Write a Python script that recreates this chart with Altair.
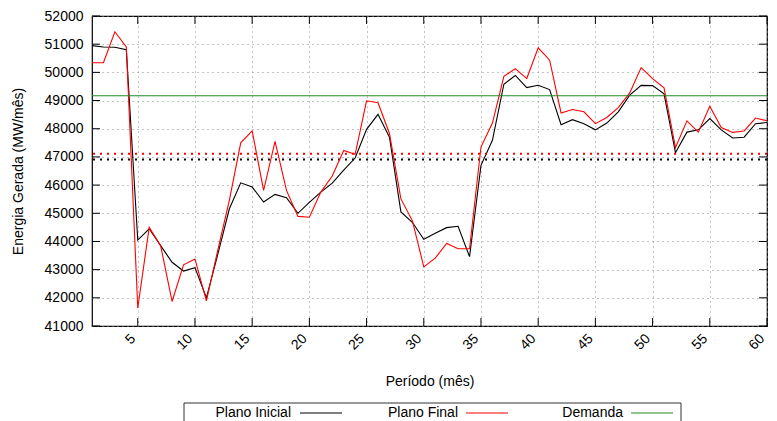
import altair as alt
import pandas as pd

periodos = list(range(1, 61))

plano_inicial = [
    50950, 50900, 50890, 50800, 44050, 44450, 43850, 43260, 42950, 43070,
    42000, 43550, 45150, 46080, 45930, 45400, 45670, 45550, 45000, 45390,
    45750, 46070, 46530, 46960, 47980, 48510, 47700, 45050, 44680, 44080,
    44290, 44490, 44540, 43460, 46700, 47590, 49580, 49890, 49460, 49540,
    49390, 48140, 48320, 48180, 47960, 48200, 48600, 49190, 49540, 49530,
    49240, 47150, 47880, 47960, 48360, 47960, 47670, 47700, 48180, 48220,
]

plano_final = [
    50340, 50340, 51440, 50900, 41640, 44500, 43850, 41870, 43170, 43380,
    41890, 43700, 45450, 47500, 47920, 45810, 47550, 45810, 44890, 44860,
    45750, 46320, 47230, 47090, 48990, 48920, 47830, 45510, 44740, 43100,
    43410, 43930, 43740, 43740, 47350, 48200, 49860, 50130, 49780, 50870,
    50430, 48560, 48680, 48600, 48180, 48400, 48750, 49270, 50170, 49780,
    49450, 47330, 48280, 47880, 48800, 48040, 47870, 47920, 48380, 48280,
]

demanda = [49170]
media_inicial = [46910]
media_final = [47110]

x_ticks = list(range(5, 61, 5))
y_ticks = list(range(41000, 52001, 1000))

legend_labels = ["Plano Inicial", "Plano Final", "Demanda"]
legend_colors = ["#000000", "#ff0000", "#228b22"]

W, H = 675, 310
FONT = "Liberation Sans"

x_scale = alt.Scale(domain=[1, 60], nice=False, zero=False)
y_scale = alt.Scale(domain=[41000, 52000], nice=False, zero=False)

grid_style = dict(grid=True, gridDash=[1, 4], gridColor="#8a8a8a", gridWidth=1,
                  ticks=False, tickSize=0, domain=False)

x_axis = alt.Axis(values=x_ticks, title="Período (mês)", labelAngle=-45,
                  labelAlign="right", labelBaseline="bottom", labelPadding=15,
                  titleX=W / 2, titleY=55, titleAlign="center",
                  titleBaseline="middle", **grid_style)
y_axis = alt.Axis(values=y_ticks, title="Energia Gerada (MW/mês)",
                  labelPadding=9, format="d", titleX=-74, titleY=H / 2,
                  titleAngle=270, titleAlign="center",
                  titleBaseline="middle", **grid_style)


def X(field):
    return alt.X(field, scale=x_scale, axis=x_axis)


def Y(field):
    return alt.Y(field, scale=y_scale, axis=y_axis)


df_ini = pd.DataFrame({"p": periodos, "v": plano_inicial})
df_fin = pd.DataFrame({"p": periodos, "v": plano_final})

base_line = alt.Chart(df_ini).mark_line(color="#000000", strokeWidth=1.1).encode(
    x=X("p:Q"), y=Y("v:Q"))
final_line = alt.Chart(df_fin).mark_line(color="#ff0000", strokeWidth=1.1).encode(
    x=X("p:Q"), y=Y("v:Q"))

dem_rule = alt.Chart(pd.DataFrame({"v": demanda})).mark_rule(
    color="#228b22", strokeWidth=1.2).encode(y=Y("v:Q"))

mean_ini = alt.Chart(pd.DataFrame({"v": media_inicial})).mark_rule(
    color="#000000", strokeWidth=2, strokeDash=[2, 5]).encode(y=Y("v:Q"))
mean_fin = alt.Chart(pd.DataFrame({"v": media_final})).mark_rule(
    color="#ff0000", strokeWidth=2, strokeDash=[2, 5]).encode(y=Y("v:Q"))

# inward tick marks (gnuplot style), on all four sides
xt = pd.DataFrame({"p": x_ticks})
yt = pd.DataFrame({"v": y_ticks})
tick_len = 8
xt_bottom = alt.Chart(xt).mark_rule(color="black").encode(
    x=X("p:Q"), y=alt.value(H), y2=alt.value(H - tick_len))
xt_top = alt.Chart(xt).mark_rule(color="black").encode(
    x=X("p:Q"), y=alt.value(0), y2=alt.value(tick_len))
yt_left = alt.Chart(yt).mark_rule(color="black").encode(
    y=Y("v:Q"), x=alt.value(0), x2=alt.value(tick_len))
yt_right = alt.Chart(yt).mark_rule(color="black").encode(
    y=Y("v:Q"), x=alt.value(W), x2=alt.value(W - tick_len))

# legend box below the plot (gnuplot style: label then line sample)
leg_df = pd.DataFrame({"t": [""]})
box_top, box_bottom, box_left, box_right = 387, 420, 92, 589
leg_layers = [
    alt.Chart(leg_df).mark_rule(color="#333333").encode(
        x=alt.value(box_left), x2=alt.value(box_right), y=alt.value(box_top)),
    alt.Chart(leg_df).mark_rule(color="#333333").encode(
        x=alt.value(box_left), y=alt.value(box_top), y2=alt.value(box_bottom)),
    alt.Chart(leg_df).mark_rule(color="#333333").encode(
        x=alt.value(box_right), y=alt.value(box_top), y2=alt.value(box_bottom)),
]
text_ends = [199, 366, 531]
line_starts = [208, 374, 539]
leg_y = 397
for lab, col, te, ls in zip(legend_labels, legend_colors, text_ends, line_starts):
    leg_layers.append(
        alt.Chart(pd.DataFrame({"t": [lab]})).mark_text(
            align="right", baseline="middle", font=FONT, fontSize=14, color="black"
        ).encode(text="t:N", x=alt.value(te), y=alt.value(leg_y))
    )
    leg_layers.append(
        alt.Chart(leg_df).mark_rule(color=col, strokeWidth=1.2).encode(
            x=alt.value(ls), x2=alt.value(ls + 42), y=alt.value(leg_y))
    )

chart = alt.layer(
    base_line, mean_ini, mean_fin, final_line, dem_rule,
    xt_bottom, xt_top, yt_left, yt_right, *leg_layers
).properties(
    width=W, height=H,
    background="white",
    autosize=alt.AutoSizeParams(type="none"),
    padding={"left": 84, "top": 8, "right": 2, "bottom": 95},
).configure_view(
    stroke="black", strokeWidth=1.2
).configure_axis(
    labelFont=FONT, titleFont=FONT, labelFontSize=14, titleFontSize=14,
    labelColor="black", titleColor="black", titleFontWeight="normal",
)

chart.save("out.html", embed_options={"renderer": "svg", "actions": False})
